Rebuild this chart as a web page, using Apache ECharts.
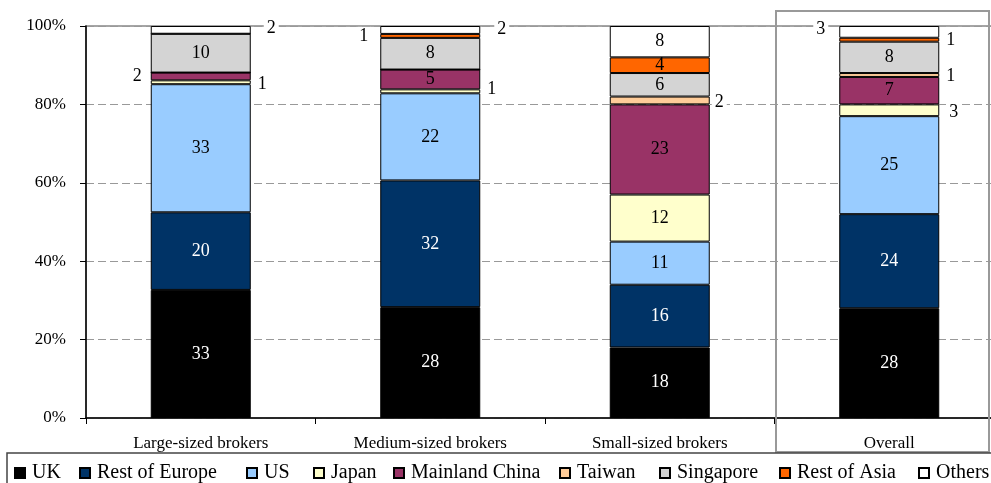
<!DOCTYPE html>
<html>
<head>
<meta charset="utf-8">
<script src="https://cdn.jsdelivr.net/npm/echarts@6/dist/echarts.min.js"></script>
<style>
  html, body { margin: 0; padding: 0; background: #fff; overflow: hidden; }
  /* the plot area runs slightly past the right edge of the window */
  #chart { width: 1006px; height: 483px; }
</style>
</head>
<body>
<div id="chart"></div>
<script>
// Broker groups along the x axis
const categories = ['Large-sized brokers', 'Medium-sized brokers', 'Small-sized brokers', 'Overall'];

// Share of each region (%) for each broker group
const seriesNames = ['UK', 'Rest of Europe', 'US', 'Japan', 'Mainland China', 'Taiwan', 'Singapore', 'Rest of Asia', 'Others'];
const uk            = [33, 28, 18, 28];
const restOfEurope  = [20, 32, 16, 24];
const us            = [33, 22, 11, 25];
const japan         = [1, 1, 12, 3];
const mainlandChina = [2, 5, 23, 7];
const taiwan        = [0, 0, 2, 1];
const singapore     = [10, 8, 6, 8];
const restOfAsia    = [0, 1, 4, 1];
const others        = [2, 2, 8, 3];

// Value axis tick labels
const yTickLabels = ['0%', '20%', '40%', '60%', '80%', '100%'];

const values = [uk, restOfEurope, us, japan, mainlandChina, taiwan, singapore, restOfAsia, others];
const colors = ['#000000', '#003366', '#99ccff', '#ffffcc', '#993366', '#ffcc99', '#d4d4d4', '#ff6600', '#ffffff'];
const whiteText = { 'UK': true, 'Rest of Europe': true };

// Small segments get their label beside the bar: [side, distance, vertical offset]
const sideLabels = {
  'Japan':          { 0: ['right', 4, 2], 1: ['right', 4, -2], 3: ['right', 7, 2] },
  'Mainland China': { 0: ['left', 6, 0] },
  'Taiwan':         { 2: ['right', 2, 2], 3: ['right', 4, 1] },
  'Rest of Asia':   { 1: ['left', 9, 0], 3: ['right', 4, 1] },
  'Others':         { 0: ['right', 13, -2], 1: ['right', 14, -1], 3: ['left', 11, -3] }
};

// Column totals, so each bar is stacked to 100%
const totals = categories.map((_, c) => values.reduce((s, arr) => s + arr[c], 0));

const SERIF = "'Liberation Serif', 'Times New Roman', serif";

const series = seriesNames.map((name, s) => {
  const side = sideLabels[name] || {};
  return {
    name: name,
    type: 'bar',
    stack: 'share',
    barWidth: 100,
    itemStyle: { color: colors[s], borderColor: '#000', borderWidth: 1 },
    label: {
      show: true,
      position: 'inside',
      fontFamily: SERIF,
      fontSize: 18,
      color: whiteText[name] ? '#fff' : '#000',
      formatter: p => String(values[s][p.dataIndex])
    },
    data: values[s].map((v, c) => {
      const item = { value: v / totals[c] * 100 };
      if (v === 0) {
        item.label = { show: false };
      } else if (side[c]) {
        const [pos, dist, dy] = side[c];
        item.label = {
          show: true,
          position: pos,
          distance: dist,
          offset: [0, dy],
          color: '#000',
          backgroundColor: '#fff',
          padding: [0, 3]
        };
      }
      return item;
    })
  };
});

// Legend entries placed individually along the bottom strip
const legendLeft = [14, 79, 246, 313, 393, 559, 659, 779, 918];
const legends = seriesNames.map((name, i) => ({
  data: [name],
  left: legendLeft[i],
  top: 463,
  padding: 0,
  itemWidth: 10,
  itemHeight: 10,
  icon: 'rect',
  selectedMode: false,
  textStyle: { fontFamily: SERIF, fontSize: 20, color: '#000', padding: [0, 0, 0, 2] }
}));

const chart = echarts.init(document.getElementById('chart'));
chart.setOption({
  animation: false,
  backgroundColor: '#fff',
  grid: {
    left: 86, top: 26, width: 918, height: 392,
    show: true, borderColor: '#888', borderWidth: 1.5, backgroundColor: 'transparent'
  },
  legend: legends,
  xAxis: {
    type: 'category',
    data: categories,
    axisLine: { lineStyle: { color: '#000', width: 1.5 } },
    axisTick: { show: true, length: 6, lineStyle: { color: '#000' } },
    axisLabel: { fontFamily: SERIF, fontSize: 17, color: '#000', margin: 17 }
  },
  yAxis: {
    type: 'value',
    min: 0, max: 100, interval: 20,
    axisLine: { show: true, lineStyle: { color: '#000', width: 1.5 } },
    axisTick: { show: true, length: 6, lineStyle: { color: '#000' } },
    axisLabel: {
      fontFamily: SERIF, fontSize: 17, color: '#000', margin: 20,
      formatter: v => yTickLabels[Math.round(v / 20)]
    },
    splitLine: { show: true, lineStyle: { color: '#999', type: [8, 4], width: 1 } }
  },
  graphic: [
    // frame around the Overall column
    { type: 'rect', shape: { x: 776, y: 11, width: 213, height: 441 },
      style: { fill: 'none', stroke: '#999', lineWidth: 2 }, z: 50 },
    // legend frame
    { type: 'rect', shape: { x: 7, y: 453, width: 1000, height: 40 },
      style: { fill: 'none', stroke: '#444', lineWidth: 1.5 }, z: 50 }
  ],
  series: series
});
</script>
</body>
</html>
